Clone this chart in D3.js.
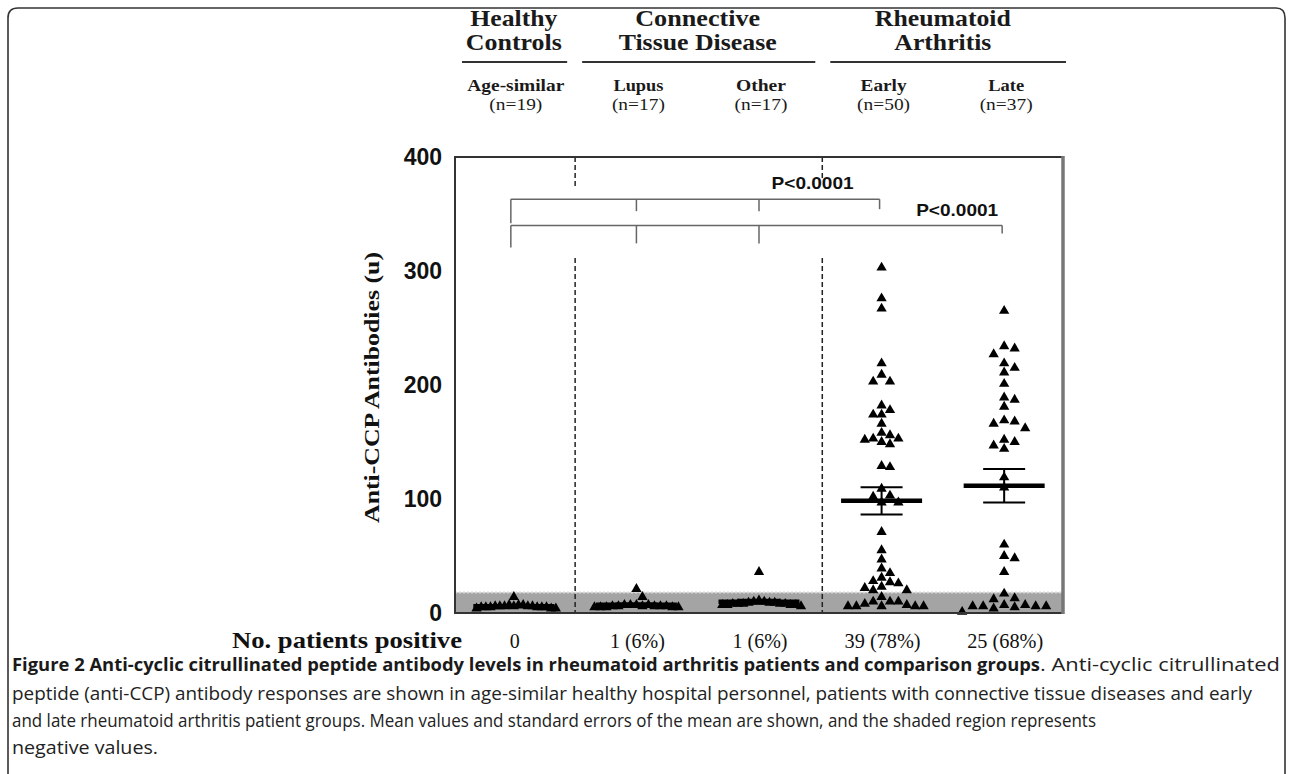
<!DOCTYPE html>
<html><head><meta charset="utf-8">
<script src="https://cdn.jsdelivr.net/npm/d3@7"></script>
<style>html,body{margin:0;padding:0;background:#fff;} svg{display:block}</style>
</head><body>
<svg id="c" width="1292" height="774"></svg>
<script>
// ---------------- data ----------------
const groups = ["Age-similar", "Lupus", "Other", "Early", "Late"];
const groupN = ["(n=19)", "(n=17)", "(n=17)", "(n=50)", "(n=37)"];
const headerTop = [["Healthy", "Controls"], ["Connective", "Tissue Disease"], ["Rheumatoid", "Arthritis"]];
const headerGroups = [["Age-similar"], ["Lupus", "Other"], ["Early", "Late"]];
const positives = ["0", "1 (6%)", "1 (6%)", "39 (78%)", "25 (68%)"];
const yTicks = [0, 100, 200, 300, 400];
const negativeCutoff = 18;
const healthyVals = [14, 5, 6, 4, 7, 5, 6, 5, 4, 6, 7, 5, 6, 4, 5, 6, 5, 7, 6];
const lupusVals = [21, 14, 5, 6, 7, 5, 6, 7, 6, 5, 7, 6, 5, 6, 7, 6, 5];
const otherVals = [36, 7, 8, 9, 6, 10, 8, 7, 9, 8, 11, 7, 9, 8, 10, 7, 8];
const earlyVals = [303, 276, 267, 219, 209, 203, 203, 182, 178, 174, 174, 166, 158, 156, 153, 153, 152, 150, 148, 129, 128, 109, 103, 102, 97, 97,
  71, 55, 47, 39, 35, 31, 28, 27, 26, 23, 22, 20, 20, 14, 10, 10, 10, 8, 7, 6, 6, 6, 6, 6];
const lateVals = [265, 234, 232, 227, 219, 215, 211, 201, 189, 187, 181, 169, 168, 166, 162, 152, 150, 147, 144, 119, 110,
  60, 50, 48, 36, 17, 13, 12, 7, 7, 6, 6, 6, 6, 5, 4, 1];
const seriesVals = [healthyVals, lupusVals, otherVals, earlyVals, lateVals];
const comparisons = [
  {from: "Age-similar", mid: ["Lupus", "Other"], to: "Early", level: 363, label: "P<0.0001"},
  {from: "Age-similar", mid: ["Lupus", "Other"], to: "Late", level: 340, label: "P<0.0001"}
];
const captionBold = "Figure 2 Anti-cyclic citrullinated peptide antibody levels in rheumatoid arthritis patients and comparison groups";
const captionLines = [
  ". Anti-cyclic citrullinated",
  "peptide (anti-CCP) antibody responses are shown in age-similar healthy hospital personnel, patients with connective tissue diseases and early",
  "and late rheumatoid arthritis patient groups. Mean values and standard errors of the mean are shown, and the shaded region represents",
  "negative values."
];

// ---------------- layout ----------------
const svg = d3.select("#c");
const P = {left: 455, right: 1063, top: 157, bottom: 613};
const x = d3.scalePoint().domain(groups).range([P.left, P.right]).padding(0.48);
const y = d3.scaleLinear().domain([0, 400]).range([P.bottom, P.top]);
const serif = "'Liberation Serif','Times New Roman',serif";
const sans = "'Liberation Sans',Arial,sans-serif";

// figure frame
svg.append("path").attr("d", "M8,774 V18 Q8,8 18,8 H1276 Q1285,8 1285,18 V774")
  .attr("fill", "none").attr("stroke", "#333").attr("stroke-width", 1.6);

// shaded negative region
svg.append("rect").attr("x", P.left).attr("y", y(negativeCutoff))
  .attr("width", P.right - P.left).attr("height", y(0) - y(negativeCutoff)).attr("fill", "#a4a4a4");
svg.append("line").attr("x1", P.left).attr("x2", P.right).attr("y1", y(negativeCutoff)).attr("y2", y(negativeCutoff))
  .attr("stroke", "#d8d8d8").attr("stroke-width", 2).attr("stroke-dasharray", "2,2");

// separators
const seps = [(x(groups[0]) + x(groups[1])) / 2, (x(groups[2]) + x(groups[3])) / 2 + 2];
const sepTopEnd = [187, 178];
seps.forEach((sx, i) => {
  [[P.top, sepTopEnd[i]], [258, P.bottom]].forEach(([a, b]) => {
    svg.append("line").attr("x1", sx).attr("x2", sx).attr("y1", a).attr("y2", b)
      .attr("stroke", "#222").attr("stroke-width", 1.5).attr("stroke-dasharray", "5,3");
  });
});

// comparison brackets
const bracketStyle = sel => sel.attr("stroke", "#666").attr("stroke-width", 1.5).attr("fill", "none");
const leftTick = [24, 22], midTick = [12, 18], rightTick = [10, 8];
const labelPos = [{dx: -67, dy: -16}, {dx: -45, dy: -15}];
comparisons.forEach((c, i) => {
  const ly = y(c.level);
  const x0 = x(c.from) - 3, x1 = x(c.to) - 2;
  svg.append("line").attr("x1", x0).attr("x2", x1).attr("y1", ly).attr("y2", ly).call(bracketStyle);
  svg.append("line").attr("x1", x0).attr("x2", x0).attr("y1", ly).attr("y2", ly + leftTick[i]).call(bracketStyle);
  c.mid.forEach(m => svg.append("line").attr("x1", x(m)).attr("x2", x(m)).attr("y1", ly).attr("y2", ly + midTick[i]).call(bracketStyle));
  svg.append("line").attr("x1", x1).attr("x2", x1).attr("y1", ly).attr("y2", ly + rightTick[i]).call(bracketStyle);
  svg.append("text").attr("x", x1 + labelPos[i].dx).attr("y", ly + labelPos[i].dy + 6)
    .attr("text-anchor", "middle").attr("font-family", sans).attr("font-weight", "bold")
    .attr("font-size", 17).attr("textLength", 82).attr("lengthAdjust", "spacingAndGlyphs")
    .attr("fill", "#111").text(c.label);
});

// points (column swarm)
function swarm(vals, cx) {
  const pts = vals.map(v => ({v})).sort((a, b) => b.v - a.v);
  const placed = [];
  pts.forEach(d => {
    d.py = y(d.v);
    for (let k = 0; ; k++) {
      const off = k === 0 ? 0 : (k % 2 === 1 ? (k + 1) / 2 : -k / 2);
      if (!placed.some(p => p.off === off && Math.abs(p.py - d.py) < 9)) { d.off = off; placed.push(d); break; }
    }
  });
  const maxOff = d3.max(placed, p => Math.abs(p.off)) || 1;
  const step = Math.min(12.2, 42 / maxOff);
  placed.forEach(p => p.px = cx + p.off * step);
  return placed;
}
const tri = d3.symbol().type(d3.symbolTriangle).size(46);
groups.forEach((g, gi) => {
  const pts = swarm(seriesVals[gi], x(g));
  svg.append("g").selectAll("path").data(pts).join("path")
    .attr("d", tri).attr("transform", d => `translate(${d.px},${d.py})`).attr("fill", "#000");
});

// mean + SEM
groups.forEach((g, gi) => {
  const vals = seriesVals[gi];
  const m = d3.mean(vals), se = d3.deviation(vals) / Math.sqrt(vals.length);
  const cx = x(g);
  const G = svg.append("g").attr("stroke", "#000");
  G.append("line").attr("x1", cx).attr("x2", cx).attr("y1", y(m + se)).attr("y2", y(m - se)).attr("stroke-width", 2);
  [m + se, m - se].forEach(v => G.append("line").attr("x1", cx - 21).attr("x2", cx + 21).attr("y1", y(v)).attr("y2", y(v)).attr("stroke-width", 2));
  G.append("line").attr("x1", cx - 40.5).attr("x2", cx + 40.5).attr("y1", y(m)).attr("y2", y(m)).attr("stroke-width", 4.5);
});

// plot frame
svg.append("path").attr("d", `M${P.right},${P.top} H${P.left} V${P.bottom} H${P.right}`)
  .attr("fill", "none").attr("stroke", "#333").attr("stroke-width", 2);
svg.append("line").attr("x1", P.right).attr("x2", P.right).attr("y1", P.top - 1).attr("y2", P.bottom + 1)
  .attr("stroke", "#777").attr("stroke-width", 3.5);

// y axis
const yAxis = svg.append("g").attr("transform", `translate(${P.left},0)`)
  .call(d3.axisLeft(y).tickValues(yTicks).tickSize(0).tickPadding(13).tickFormat(d3.format("d")));
yAxis.select(".domain").remove();
yAxis.selectAll("text").attr("font-family", sans).attr("font-weight", "bold").attr("font-size", 23).attr("fill", "#111");
svg.append("text").attr("transform", `translate(379,${(252 + 523) / 2}) rotate(-90)`)
  .attr("text-anchor", "middle").attr("font-family", serif).attr("font-weight", "bold").attr("font-size", 22)
  .attr("textLength", 271).attr("lengthAdjust", "spacingAndGlyphs").attr("fill", "#111")
  .text("Anti-CCP Antibodies (u)");

// headers
const headerW = {"Healthy": 87, "Controls": 96, "Connective": 125, "Tissue Disease": 158, "Rheumatoid": 136, "Arthritis": 97};
const spans = [[P.left + 7, seps[0] - 8], [seps[0] + 7, seps[1] - 7], [seps[1] + 8, P.right + 3]];
headerTop.forEach((lines, i) => {
  const cx = d3.mean(headerGroups[i], g => x(g));
  lines.forEach((t, j) => {
    svg.append("text").attr("x", cx).attr("y", 26 + j * 24).attr("text-anchor", "middle")
      .attr("font-family", serif).attr("font-weight", "bold").attr("font-size", 23)
      .attr("textLength", headerW[t]).attr("lengthAdjust", "spacingAndGlyphs").attr("fill", "#1a1a1a").text(t);
  });
  svg.append("line").attr("x1", spans[i][0]).attr("x2", spans[i][1]).attr("y1", 62).attr("y2", 62)
    .attr("stroke", "#333").attr("stroke-width", 2);
});
const subW = {"Age-similar": 97, "Lupus": 50, "Other": 50, "Early": 46, "Late": 36};
groups.forEach((g, gi) => {
  const cx = x(g) + 2;
  svg.append("text").attr("x", cx).attr("y", 91).attr("text-anchor", "middle")
    .attr("font-family", serif).attr("font-weight", "bold").attr("font-size", 17)
    .attr("textLength", subW[g]).attr("lengthAdjust", "spacingAndGlyphs").attr("fill", "#1a1a1a").text(g);
  svg.append("text").attr("x", cx).attr("y", 110).attr("text-anchor", "middle")
    .attr("font-family", serif).attr("font-size", 17)
    .attr("textLength", 53).attr("lengthAdjust", "spacingAndGlyphs").attr("fill", "#1a1a1a").text(groupN[gi]);
  svg.append("text").attr("x", x(g) + 1).attr("y", 648).attr("text-anchor", "middle")
    .attr("font-family", serif).attr("font-size", 22).attr("fill", "#111")
    .attr("textLength", positives[gi].length > 1 ? (positives[gi].length > 6 ? 76 : 55) : 10)
    .attr("lengthAdjust", "spacingAndGlyphs").text(positives[gi]);
});
svg.append("text").attr("x", 347).attr("y", 648).attr("text-anchor", "middle")
  .attr("font-family", serif).attr("font-weight", "bold").attr("font-size", 23)
  .attr("textLength", 230).attr("lengthAdjust", "spacingAndGlyphs").attr("fill", "#111").text("No. patients positive");

// caption
const capFont = "'Open Sans','Noto Sans',sans-serif";
svg.append("text").attr("x", 12).attr("y", 671).attr("font-family", capFont).attr("font-weight", "bold")
  .attr("font-size", 18).attr("textLength", 1028).attr("lengthAdjust", "spacingAndGlyphs").attr("fill", "#1a1a1a").text(captionBold);
const capX = [1040, 12, 12, 12], capY = [671, 700, 727, 754], capW = [240, 1240, 1084, 146];
captionLines.forEach((t, i) => {
  svg.append("text").attr("x", capX[i]).attr("y", capY[i]).attr("font-family", capFont)
    .attr("font-size", 18).attr("textLength", capW[i]).attr("lengthAdjust", "spacingAndGlyphs")
    .attr("fill", "#222").text(t);
});
</script>
</body></html>
